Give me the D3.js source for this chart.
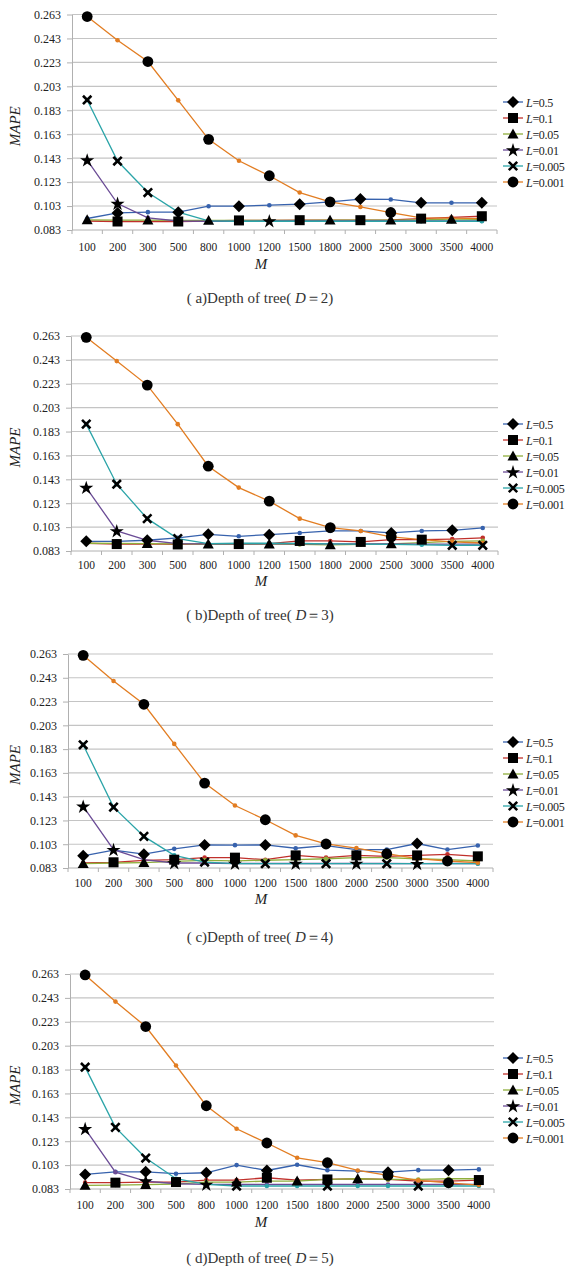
<!DOCTYPE html>
<html lang="en">
<head>
    <meta charset="utf-8">
    <title>MAPE vs M</title>
    <script type="text/javascript" src="https://d3js.org/d3.v7.min.js"></script>
    <style type="text/css">
        body { margin: 0; background: #fff; }
        svg text { font-family: "Liberation Serif", "DejaVu Serif", serif; }
    </style>
</head>
<body>
<div id="graph"></div>
<script type="text/javascript">

    // x categories and y ticks
    var mValues = ["100", "200", "300", "500", "800", "1000", "1200", "1500", "1800", "2000", "2500", "3000", "3500", "4000"];
    var yTicks = [0.083, 0.103, 0.123, 0.143, 0.163, 0.183, 0.203, 0.223, 0.243, 0.263];
    var lLabels = ["0.5", "0.1", "0.05", "0.01", "0.005", "0.001"];

    // (a) D=2
    var a_05 = [0.0926, 0.0973, 0.0979, 0.0979, 0.1029, 0.1029, 0.1037, 0.1046, 0.1065, 0.1088, 0.1085, 0.1057, 0.1057, 0.1057];
    var a_1 = [0.0905, 0.0901, 0.0901, 0.0901, 0.0905, 0.0910, 0.0910, 0.0912, 0.0912, 0.0912, 0.0915, 0.0925, 0.0935, 0.0945];
    var a_05b = [0.0915, 0.0912, 0.0912, 0.0910, 0.0910, 0.0910, 0.0910, 0.0910, 0.0912, 0.0912, 0.0912, 0.0915, 0.0920, 0.0920];
    var a_01 = [0.1414, 0.1051, 0.0932, 0.0905, 0.0903, 0.0903, 0.0905, 0.0905, 0.0905, 0.0905, 0.0905, 0.0905, 0.0905, 0.0905];
    var a_005 = [0.1916, 0.1406, 0.1143, 0.0979, 0.0906, 0.0903, 0.0903, 0.0903, 0.0903, 0.0903, 0.0903, 0.0903, 0.0903, 0.0903];
    var a_001 = [0.2613, 0.2415, 0.2237, 0.1913, 0.1587, 0.1408, 0.1283, 0.1143, 0.1065, 0.1023, 0.0976, 0.0932, 0.0930, 0.0925];

    // (b) D=3
    var b_05 = [0.0911, 0.0911, 0.0920, 0.0940, 0.0970, 0.0953, 0.0967, 0.0981, 0.0998, 0.0998, 0.0981, 0.0998, 0.1003, 0.1023];
    var b_1 = [0.0895, 0.0888, 0.0890, 0.0885, 0.0890, 0.0888, 0.0892, 0.0914, 0.0914, 0.0906, 0.0925, 0.0925, 0.0930, 0.0940];
    var b_05b = [0.0895, 0.0893, 0.0892, 0.0890, 0.0888, 0.0888, 0.0888, 0.0885, 0.0882, 0.0885, 0.0890, 0.0900, 0.0910, 0.0915];
    var b_01 = [0.1361, 0.0998, 0.0920, 0.0892, 0.0890, 0.0890, 0.0890, 0.0890, 0.0890, 0.0890, 0.0890, 0.0888, 0.0888, 0.0888];
    var b_005 = [0.1892, 0.1389, 0.1101, 0.0934, 0.0892, 0.0895, 0.0895, 0.0893, 0.0890, 0.0888, 0.0885, 0.0882, 0.0878, 0.0878];
    var b_001 = [0.2619, 0.2420, 0.2219, 0.1892, 0.1540, 0.1361, 0.1247, 0.1101, 0.1026, 0.0998, 0.0948, 0.0925, 0.0906, 0.0897];

    // (c) D=4
    var c_05 = [0.0932, 0.0980, 0.0946, 0.0991, 0.1024, 0.1022, 0.1024, 0.0996, 0.1019, 0.0985, 0.0985, 0.1036, 0.0985, 0.1019];
    var c_1 = [0.0872, 0.0878, 0.0894, 0.0900, 0.0917, 0.0917, 0.0900, 0.0936, 0.0917, 0.0936, 0.0928, 0.0936, 0.0945, 0.0928];
    var c_05b = [0.0866, 0.0872, 0.0876, 0.0885, 0.0894, 0.0890, 0.0895, 0.0900, 0.0908, 0.0917, 0.0917, 0.0908, 0.0900, 0.0889];
    var c_01 = [0.1348, 0.0984, 0.0900, 0.0872, 0.0872, 0.0868, 0.0868, 0.0868, 0.0868, 0.0868, 0.0868, 0.0866, 0.0868, 0.0868];
    var c_005 = [0.1866, 0.1342, 0.1096, 0.0936, 0.0880, 0.0866, 0.0866, 0.0866, 0.0866, 0.0866, 0.0866, 0.0866, 0.0866, 0.0866];
    var c_001 = [0.2619, 0.2403, 0.2207, 0.1874, 0.1544, 0.1356, 0.1236, 0.1104, 0.1032, 0.0998, 0.0950, 0.0908, 0.0889, 0.0875];

    // (d) D=5
    var d_05 = [0.0952, 0.0974, 0.0974, 0.0958, 0.0966, 0.1030, 0.0985, 0.1033, 0.0988, 0.0980, 0.0971, 0.0988, 0.0988, 0.0994];
    var d_1 = [0.0883, 0.0883, 0.0888, 0.0888, 0.0905, 0.0905, 0.0924, 0.0905, 0.0910, 0.0916, 0.0910, 0.0896, 0.0896, 0.0905];
    var d_05b = [0.0860, 0.0863, 0.0866, 0.0872, 0.0888, 0.0888, 0.0896, 0.0896, 0.0910, 0.0916, 0.0910, 0.0910, 0.0916, 0.0916];
    var d_01 = [0.1334, 0.0971, 0.0896, 0.0874, 0.0868, 0.0868, 0.0868, 0.0868, 0.0868, 0.0868, 0.0868, 0.0868, 0.0868, 0.0868];
    var d_005 = [0.1850, 0.1346, 0.1089, 0.0916, 0.0868, 0.0855, 0.0855, 0.0855, 0.0855, 0.0855, 0.0855, 0.0855, 0.0855, 0.0855];
    var d_001 = [0.2622, 0.2399, 0.2190, 0.1864, 0.1527, 0.1334, 0.1215, 0.1091, 0.1050, 0.0985, 0.0944, 0.0902, 0.0882, 0.0863];

    // which points carry the big black marker, per series
    var a_marks = [[1, 3, 5, 7, 9, 11, 13], [1, 3, 5, 7, 9, 11, 13], [0, 2, 4, 8, 10, 12], [0, 1, 6], [0, 1, 2], [0, 2, 4, 6, 8, 10]];
    var b_marks = [[0, 2, 4, 6, 10, 12], [1, 3, 5, 7, 9, 11], [2, 4, 6, 8, 10], [0, 1], [0, 1, 2, 3, 12, 13], [0, 2, 4, 6, 8, 10]];
    var c_marks = [[0, 2, 4, 6, 11], [1, 3, 5, 7, 9, 11, 13], [0, 2], [0, 1, 3, 5, 7, 9, 11], [0, 1, 2, 4, 6, 8, 10], [0, 2, 4, 6, 8, 10, 12]];
    var d_marks = [[0, 2, 4, 6, 10, 12], [1, 3, 6, 8, 13], [0, 2, 5, 7, 9], [0, 2, 4], [0, 1, 2, 5, 8, 11], [0, 2, 4, 6, 8, 10, 12]];

    var colors = ["#3762ad", "#c0302b", "#8fae3c", "#6b4c96", "#2ba4a8", "#e27d22"];
    var shapes = ["diamond", "square", "triangle", "star", "cross", "circle"];
    var serif = "'Liberation Serif', 'DejaVu Serif', serif";

    var panels = [
        { tag: "a", D: 2, series: [a_05, a_1, a_05b, a_01, a_005, a_001], marks: a_marks,
          top: 14.5, bottom: 230, left: 72, right: 497, labY: 251, mY: 269, capY: 303, legY: 102 },
        { tag: "b", D: 3, series: [b_05, b_1, b_05b, b_01, b_005, b_001], marks: b_marks,
          top: 336, bottom: 551, left: 71, right: 498, labY: 569, mY: 586, capY: 620, legY: 424 },
        { tag: "c", D: 4, series: [c_05, c_1, c_05b, c_01, c_005, c_001], marks: c_marks,
          top: 654, bottom: 868, left: 68, right: 493, labY: 887, mY: 904, capY: 942, legY: 742 },
        { tag: "d", D: 5, series: [d_05, d_1, d_05b, d_01, d_005, d_001], marks: d_marks,
          top: 974, bottom: 1189, left: 70, right: 494, labY: 1209, mY: 1227, capY: 1263, legY: 1058 }
    ];

    var svg = d3.select("#graph").append("svg")
        .attr("width", 568)
        .attr("height", 1268)
        .style("display", "block");

    svg.append("rect").attr("width", 568).attr("height", 1268).attr("fill", "#fff");

    // big black marker
    function bigMarker(g, shape, cx, cy) {
        var s;
        if (shape == "circle") {
            g.append("circle").attr("cx", cx).attr("cy", cy).attr("r", 5.4).attr("fill", "#000");
        } else if (shape == "square") {
            g.append("rect").attr("x", cx - 5).attr("y", cy - 5).attr("width", 10).attr("height", 10).attr("fill", "#000");
        } else if (shape == "diamond") {
            s = 6;
            g.append("path").attr("d", `M${cx},${cy - s}L${cx + s},${cy}L${cx},${cy + s}L${cx - s},${cy}Z`).attr("fill", "#000");
        } else if (shape == "triangle") {
            s = 5.5;
            g.append("path").attr("d", `M${cx},${cy - s}L${cx + s},${cy + s * 0.8}L${cx - s},${cy + s * 0.8}Z`).attr("fill", "#000");
        } else if (shape == "star") {
            g.append("path").attr("d", d3.symbol().type(d3.symbolStar).size(62)())
                .attr("transform", `translate(${cx},${cy + 0.5})`).attr("fill", "#000");
        } else if (shape == "cross") {
            s = 4.2;
            g.append("path").attr("d", `M${cx - s},${cy - s}L${cx + s},${cy + s}M${cx + s},${cy - s}L${cx - s},${cy + s}`)
                .attr("stroke", "#000").attr("stroke-width", 2.6).attr("fill", "none");
        }
    }

    panels.forEach(function (p) {
        var g = svg.append("g");

        var x = d3.scaleBand().domain(mValues).range([p.left, p.right]);
        var y = d3.scaleLinear().domain([0.083, 0.263]).range([p.bottom, p.top]);
        var cx = function (i) { return x(mValues[i]) + x.bandwidth() / 2; };

        // gridlines
        g.selectAll(".grid")
            .data(yTicks.slice(1))
            .enter()
            .append("line")
            .attr("x1", p.left)
            .attr("x2", p.right)
            .attr("y1", function (d) { return y(d); })
            .attr("y2", function (d) { return y(d); })
            .attr("stroke", "#c4c4c4")
            .attr("stroke-width", 1.1);

        // y axis
        var yAxis = g.append("g")
            .attr("transform", `translate(${p.left},0)`)
            .call(d3.axisLeft(y).tickValues(yTicks).tickFormat(d3.format(".3f")).tickSize(5).tickSizeOuter(0).tickPadding(6));
        yAxis.attr("font-family", serif);
        yAxis.selectAll("text")
            .attr("font-family", serif)
            .style("font-size", "12px")
            .attr("fill", "#222");
        yAxis.selectAll("line").attr("stroke", "#b0b0b0");
        yAxis.select(".domain").attr("stroke", "#b0b0b0");

        // x axis: line, ticks between categories, labels
        g.append("line")
            .attr("x1", p.left).attr("x2", p.right)
            .attr("y1", p.bottom).attr("y2", p.bottom)
            .attr("stroke", "#b0b0b0");
        g.selectAll(".xtick")
            .data(mValues.concat(["end"]))
            .enter()
            .append("line")
            .attr("x1", function (d) { return d == "end" ? p.right : x(d); })
            .attr("x2", function (d) { return d == "end" ? p.right : x(d); })
            .attr("y1", p.bottom)
            .attr("y2", p.bottom + 4)
            .attr("stroke", "#b0b0b0");
        g.selectAll(".xlab")
            .data(mValues)
            .enter()
            .append("text")
            .text(function (d) { return d; })
            .attr("x", function (d) { return x(d) + x.bandwidth() / 2; })
            .attr("y", p.labY)
            .attr("text-anchor", "middle")
            .attr("font-family", serif)
            .attr("font-size", "11.5px")
            .attr("fill", "#222");

        // axis titles
        g.append("text")
            .attr("transform", `translate(20,${(p.top + p.bottom) / 2 + 4}) rotate(-90)`)
            .attr("text-anchor", "middle")
            .attr("font-family", serif)
            .attr("font-style", "italic")
            .attr("font-size", "15px")
            .attr("fill", "#222")
            .text("MAPE");
        g.append("text")
            .attr("x", 261)
            .attr("y", p.mY)
            .attr("text-anchor", "middle")
            .attr("font-family", serif)
            .attr("font-style", "italic")
            .attr("font-size", "15px")
            .attr("fill", "#222")
            .text("M");

        // caption
        var cap = g.append("text")
            .attr("x", 260)
            .attr("y", p.capY)
            .attr("text-anchor", "middle")
            .attr("font-family", serif)
            .attr("font-size", "15px")
            .attr("fill", "#333");
        cap.append("tspan").text("( " + p.tag + ")Depth of tree( ");
        cap.append("tspan").attr("font-style", "italic").text("D");
        cap.append("tspan").text("＝" + p.D + ")");

        // lines and small markers
        var line = d3.line()
            .x(function (d, i) { return cx(i); })
            .y(function (d) { return y(d); });

        p.series.forEach(function (vals, k) {
            g.append("path")
                .datum(vals)
                .attr("d", line)
                .attr("fill", "none")
                .attr("stroke", colors[k])
                .attr("stroke-width", 1.3);
            g.selectAll(".dot" + k)
                .data(vals)
                .enter()
                .append("circle")
                .attr("cx", function (d, i) { return cx(i); })
                .attr("cy", function (d) { return y(d); })
                .attr("r", 2.3)
                .attr("fill", colors[k]);
        });

        // big black markers on top
        p.series.forEach(function (vals, k) {
            p.marks[k].forEach(function (i) {
                bigMarker(g, shapes[k], cx(i), y(vals[i]));
            });
        });

        // legend
        lLabels.forEach(function (lab, k) {
            var ly = p.legY + k * 16;
            g.append("line")
                .attr("x1", 503).attr("x2", 523)
                .attr("y1", ly).attr("y2", ly)
                .attr("stroke", colors[k]).attr("stroke-width", 1.3);
            bigMarker(g, shapes[k], 513, ly);
            var t = g.append("text")
                .attr("x", 526)
                .attr("y", ly + 4.5)
                .attr("font-family", serif)
                .attr("font-size", "12px")
                .attr("letter-spacing", "-0.3px")
                .attr("fill", "#222");
            t.append("tspan").attr("font-style", "italic").text("L");
            t.append("tspan").text("=" + lab);
        });
    });

</script>
</body>
</html>
